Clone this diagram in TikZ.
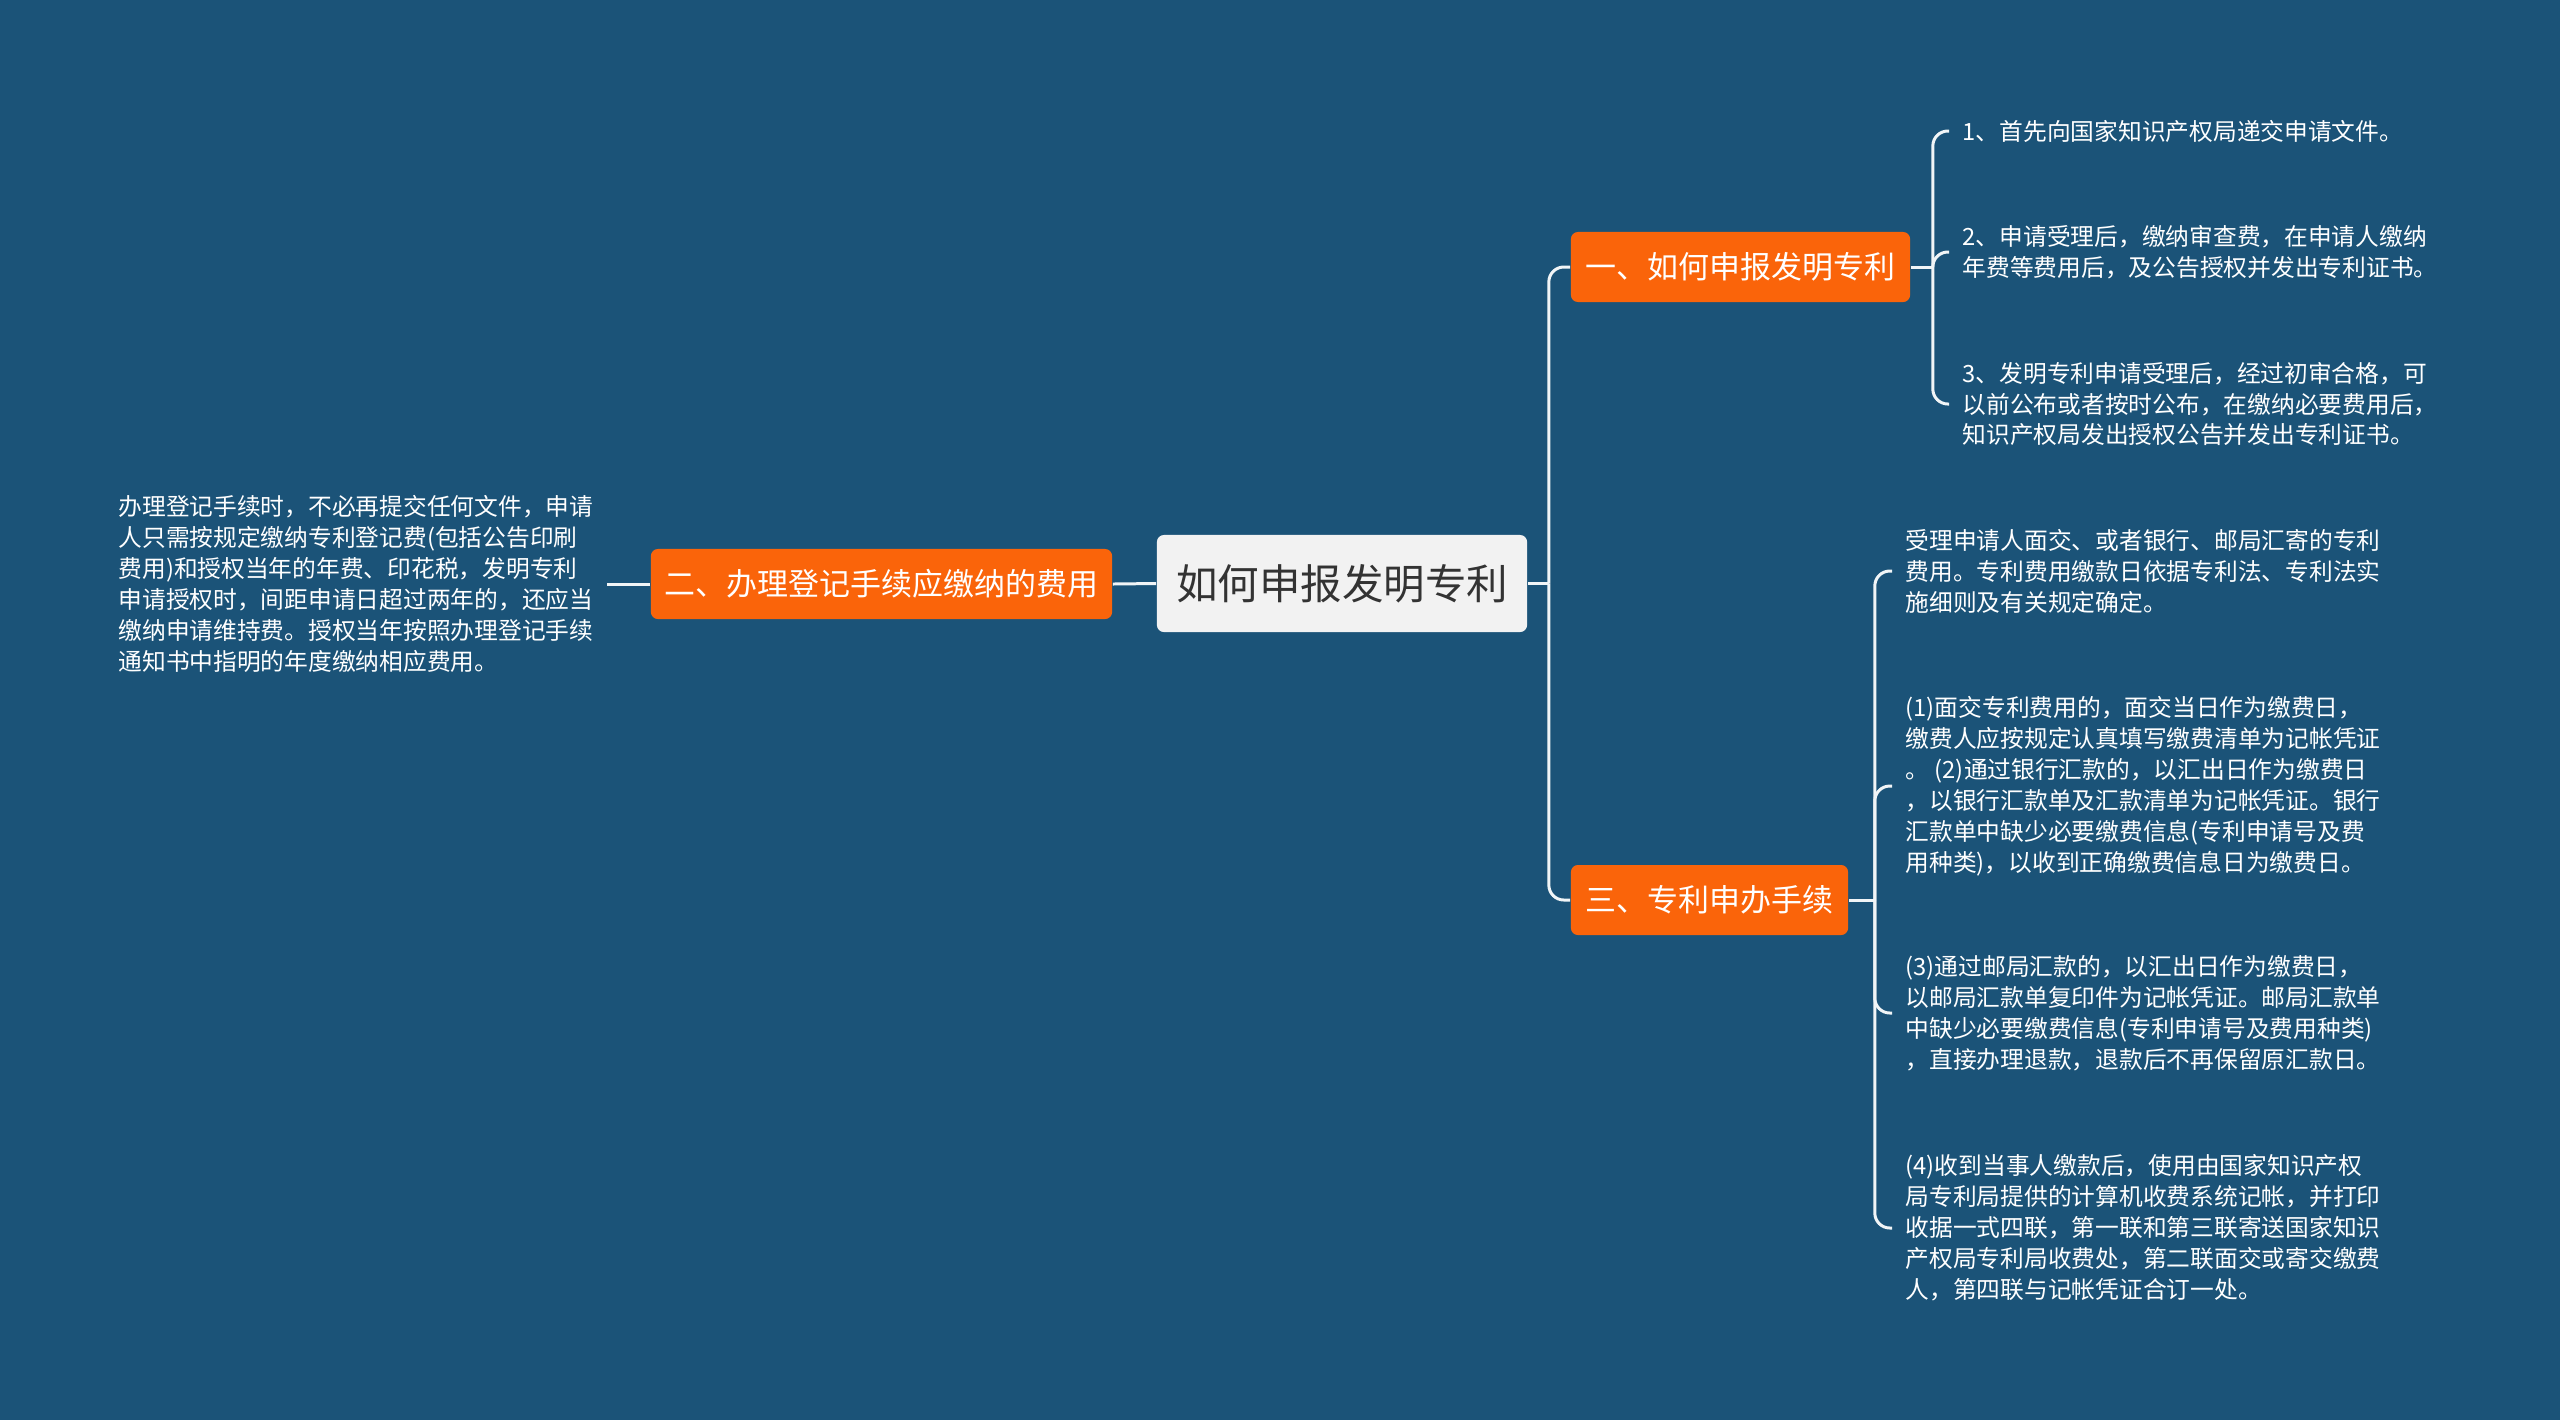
\documentclass[tikz,border=0pt]{standalone}
\usepackage{fontspec}
\setmainfont{Noto Sans CJK SC}
\usepackage{tikz}
\usepackage{xcolor}
\usetikzlibrary{positioning, calc}
\definecolor{deepsea}{HTML}{1B5378}
\definecolor{tangerine}{HTML}{FA640A}
\definecolor{paper}{HTML}{F2F2F2}
\definecolor{ink}{HTML}{333333}
\tikzstyle{topic} = [rectangle, rounded corners=0.07cm, fill=paper, text=ink,
                     minimum width=3.7cm, minimum height=0.97cm,
                     font=\fontsize{11.8pt}{14pt}\selectfont]
\tikzstyle{branch} = [rectangle, rounded corners=0.07cm, fill=tangerine, text=white,
                      minimum height=0.7cm, inner sep=0pt,
                      font=\fontsize{8.8pt}{11pt}\selectfont]
\tikzstyle{leaf} = [align=left, text=white, inner xsep=0.13cm, inner ysep=0pt,
                    font=\fontsize{6.75pt}{8.8pt}\selectfont]
\tikzstyle{link} = [draw=white!94!deepsea, line width=0.85pt, rounded corners=0.15cm]

\begin{document}
\begin{tikzpicture}[x=0.01cm, y=-0.01cm]
    \fill[deepsea] (0,0) rectangle (2560,1420);
    \useasboundingbox (0,0) rectangle (2560,1420);

    \node[topic] (root) at (1342,583.5) {如何申报发明专利};

    \node[branch, minimum width=3.39cm] (pat) at (1740.5,267) {一、如何申报发明专利};
    \node[branch, minimum width=4.61cm] (fee) at (881.5,584) {二、办理登记手续应缴纳的费用};
    \node[branch, minimum width=2.77cm] (proc) at (1709.5,900) {三、专利申办手续};

    \node[leaf, anchor=west] (p1) at (1949,131) {1、首先向国家知识产权局递交申请文件。};
    \node[leaf, anchor=west] (p2) at (1949,252) {2、申请受理后，缴纳审查费，在申请人缴纳\\年费等费用后，及公告授权并发出专利证书。};
    \node[leaf, anchor=west] (p3) at (1949,404) {3、发明专利申请受理后，经过初审合格，可\\以前公布或者按时公布，在缴纳必要费用后，\\知识产权局发出授权公告并发出专利证书。};

    \node[leaf, anchor=east] (feetxt) at (607,584) {办理登记手续时，不必再提交任何文件，申请\\人只需按规定缴纳专利登记费(包括公告印刷\\费用)和授权当年的年费、印花税，发明专利\\申请授权时，间距申请日超过两年的，还应当\\缴纳申请维持费。授权当年按照办理登记手续\\通知书中指明的年度缴纳相应费用。};

    \node[leaf, anchor=west] (q1) at (1892,571) {受理申请人面交、或者银行、邮局汇寄的专利\\费用。专利费用缴款日依据专利法、专利法实\\施细则及有关规定确定。};
    \node[leaf, anchor=west] (q2) at (1892,786) {(1)面交专利费用的，面交当日作为缴费日，\\缴费人应按规定认真填写缴费清单为记帐凭证\\。 (2)通过银行汇款的，以汇出日作为缴费日\\，以银行汇款单及汇款清单为记帐凭证。银行\\汇款单中缺少必要缴费信息(专利申请号及费\\用种类)，以收到正确缴费信息日为缴费日。};
    \node[leaf, anchor=west] (q3) at (1892,1013) {(3)通过邮局汇款的，以汇出日作为缴费日，\\以邮局汇款单复印件为记帐凭证。邮局汇款单\\中缺少必要缴费信息(专利申请号及费用种类)\\，直接办理退款，退款后不再保留原汇款日。};
    \node[leaf, anchor=west] (q4) at (1892,1228) {(4)收到当事人缴款后，使用由国家知识产权\\局专利局提供的计算机收费系统记帐，并打印\\收据一式四联，第一联和第三联寄送国家知识\\产权局专利局收费处，第二联面交或寄交缴费\\人，第四联与记帐凭证合订一处。};

    % root to branches
    \coordinate (hub) at ($(root.east)+(21,0)$);
    \draw[link] (root.east) -- (hub);
    \draw[link] (hub) |- (pat.west);
    \draw[link] (hub) |- (proc.west);
    \draw[link] (root.west) -- (fee.east);
    \draw[link] (fee.west) -- (feetxt.east);

    % branch forks
    \coordinate (patfork) at ($(pat.east)+(22,0)$);
    \draw[link] (pat.east) -- (patfork);
    \foreach \n in {p1,p2,p3}
        \draw[link] (patfork) |- (\n.west);

    \coordinate (procfork) at ($(proc.east)+(26,0)$);
    \draw[link] (proc.east) -- (procfork);
    \foreach \n in {q1,q2,q3,q4}
        \draw[link] (procfork) |- (\n.west);
\end{tikzpicture}
\end{document}
